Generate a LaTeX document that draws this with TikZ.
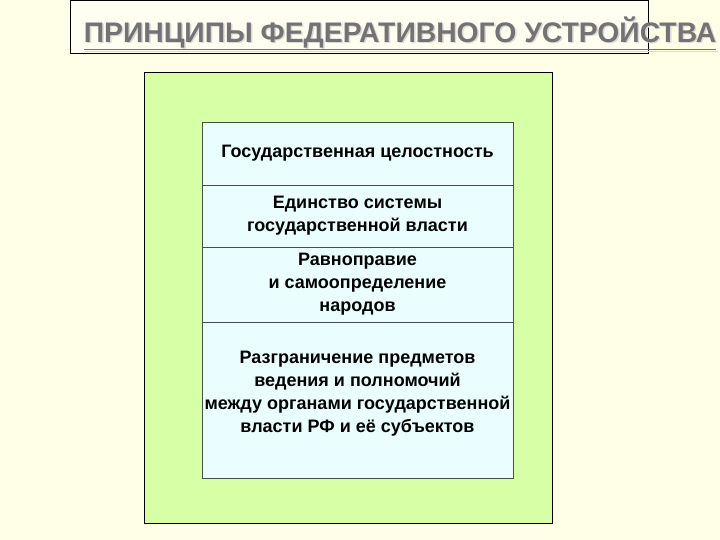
\documentclass[tikz,border=0pt]{standalone}
\usepackage{fontspec}
\setmainfont{Liberation Sans}
\begin{document}
\begin{tikzpicture}[x=1pt,y=-1pt,
  cell/.style={draw=black!70,line width=0.8pt,fill=blue!6!cyan!8!white,minimum width=311pt,inner sep=0pt,align=center,font=\fontsize{18}{23}\selectfont\bfseries},
  title/.style={font=\fontsize{28.3}{32}\selectfont\bfseries,text=black!55}]
\fill[yellow!10!white] (0,0) rectangle (720,540);
\useasboundingbox (0,0) rectangle (720,540);
\node[draw,line width=0.8pt,fill=yellow!6!white,minimum width=578pt,minimum height=53pt,inner sep=0pt] (tb) at (359,26.5) {};
\node[title,text=white!85!black] at (401.5,35) {\underline{ПРИНЦИПЫ ФЕДЕРАТИВНОГО УСТРОЙСТВА}};
\node[title] (t) at (400,33.5) {\underline{ПРИНЦИПЫ ФЕДЕРАТИВНОГО УСТРОЙСТВА}};
\node[draw,line width=0.8pt,fill=green!45!yellow!35!white,minimum width=408pt,minimum height=451pt,inner sep=0pt] (g) at (348,297.5) {};
\node[cell,minimum height=63pt] (a) at (357.5,153.5) {Государственная целостность};
\node[cell,minimum height=62pt] (b) at (357.5,216) {Единство системы\\государственной власти};
\node[cell,minimum height=75pt] (c) at (357.5,284.5) {Равноправие\\и самоопределение\\народов};
\node[cell,minimum height=156pt] (d) at (357.5,400) {Разграничение предметов\\ведения и полномочий\\между органами государственной\\власти РФ и её субъектов\\[-6pt]};
\end{tikzpicture}
\end{document}
